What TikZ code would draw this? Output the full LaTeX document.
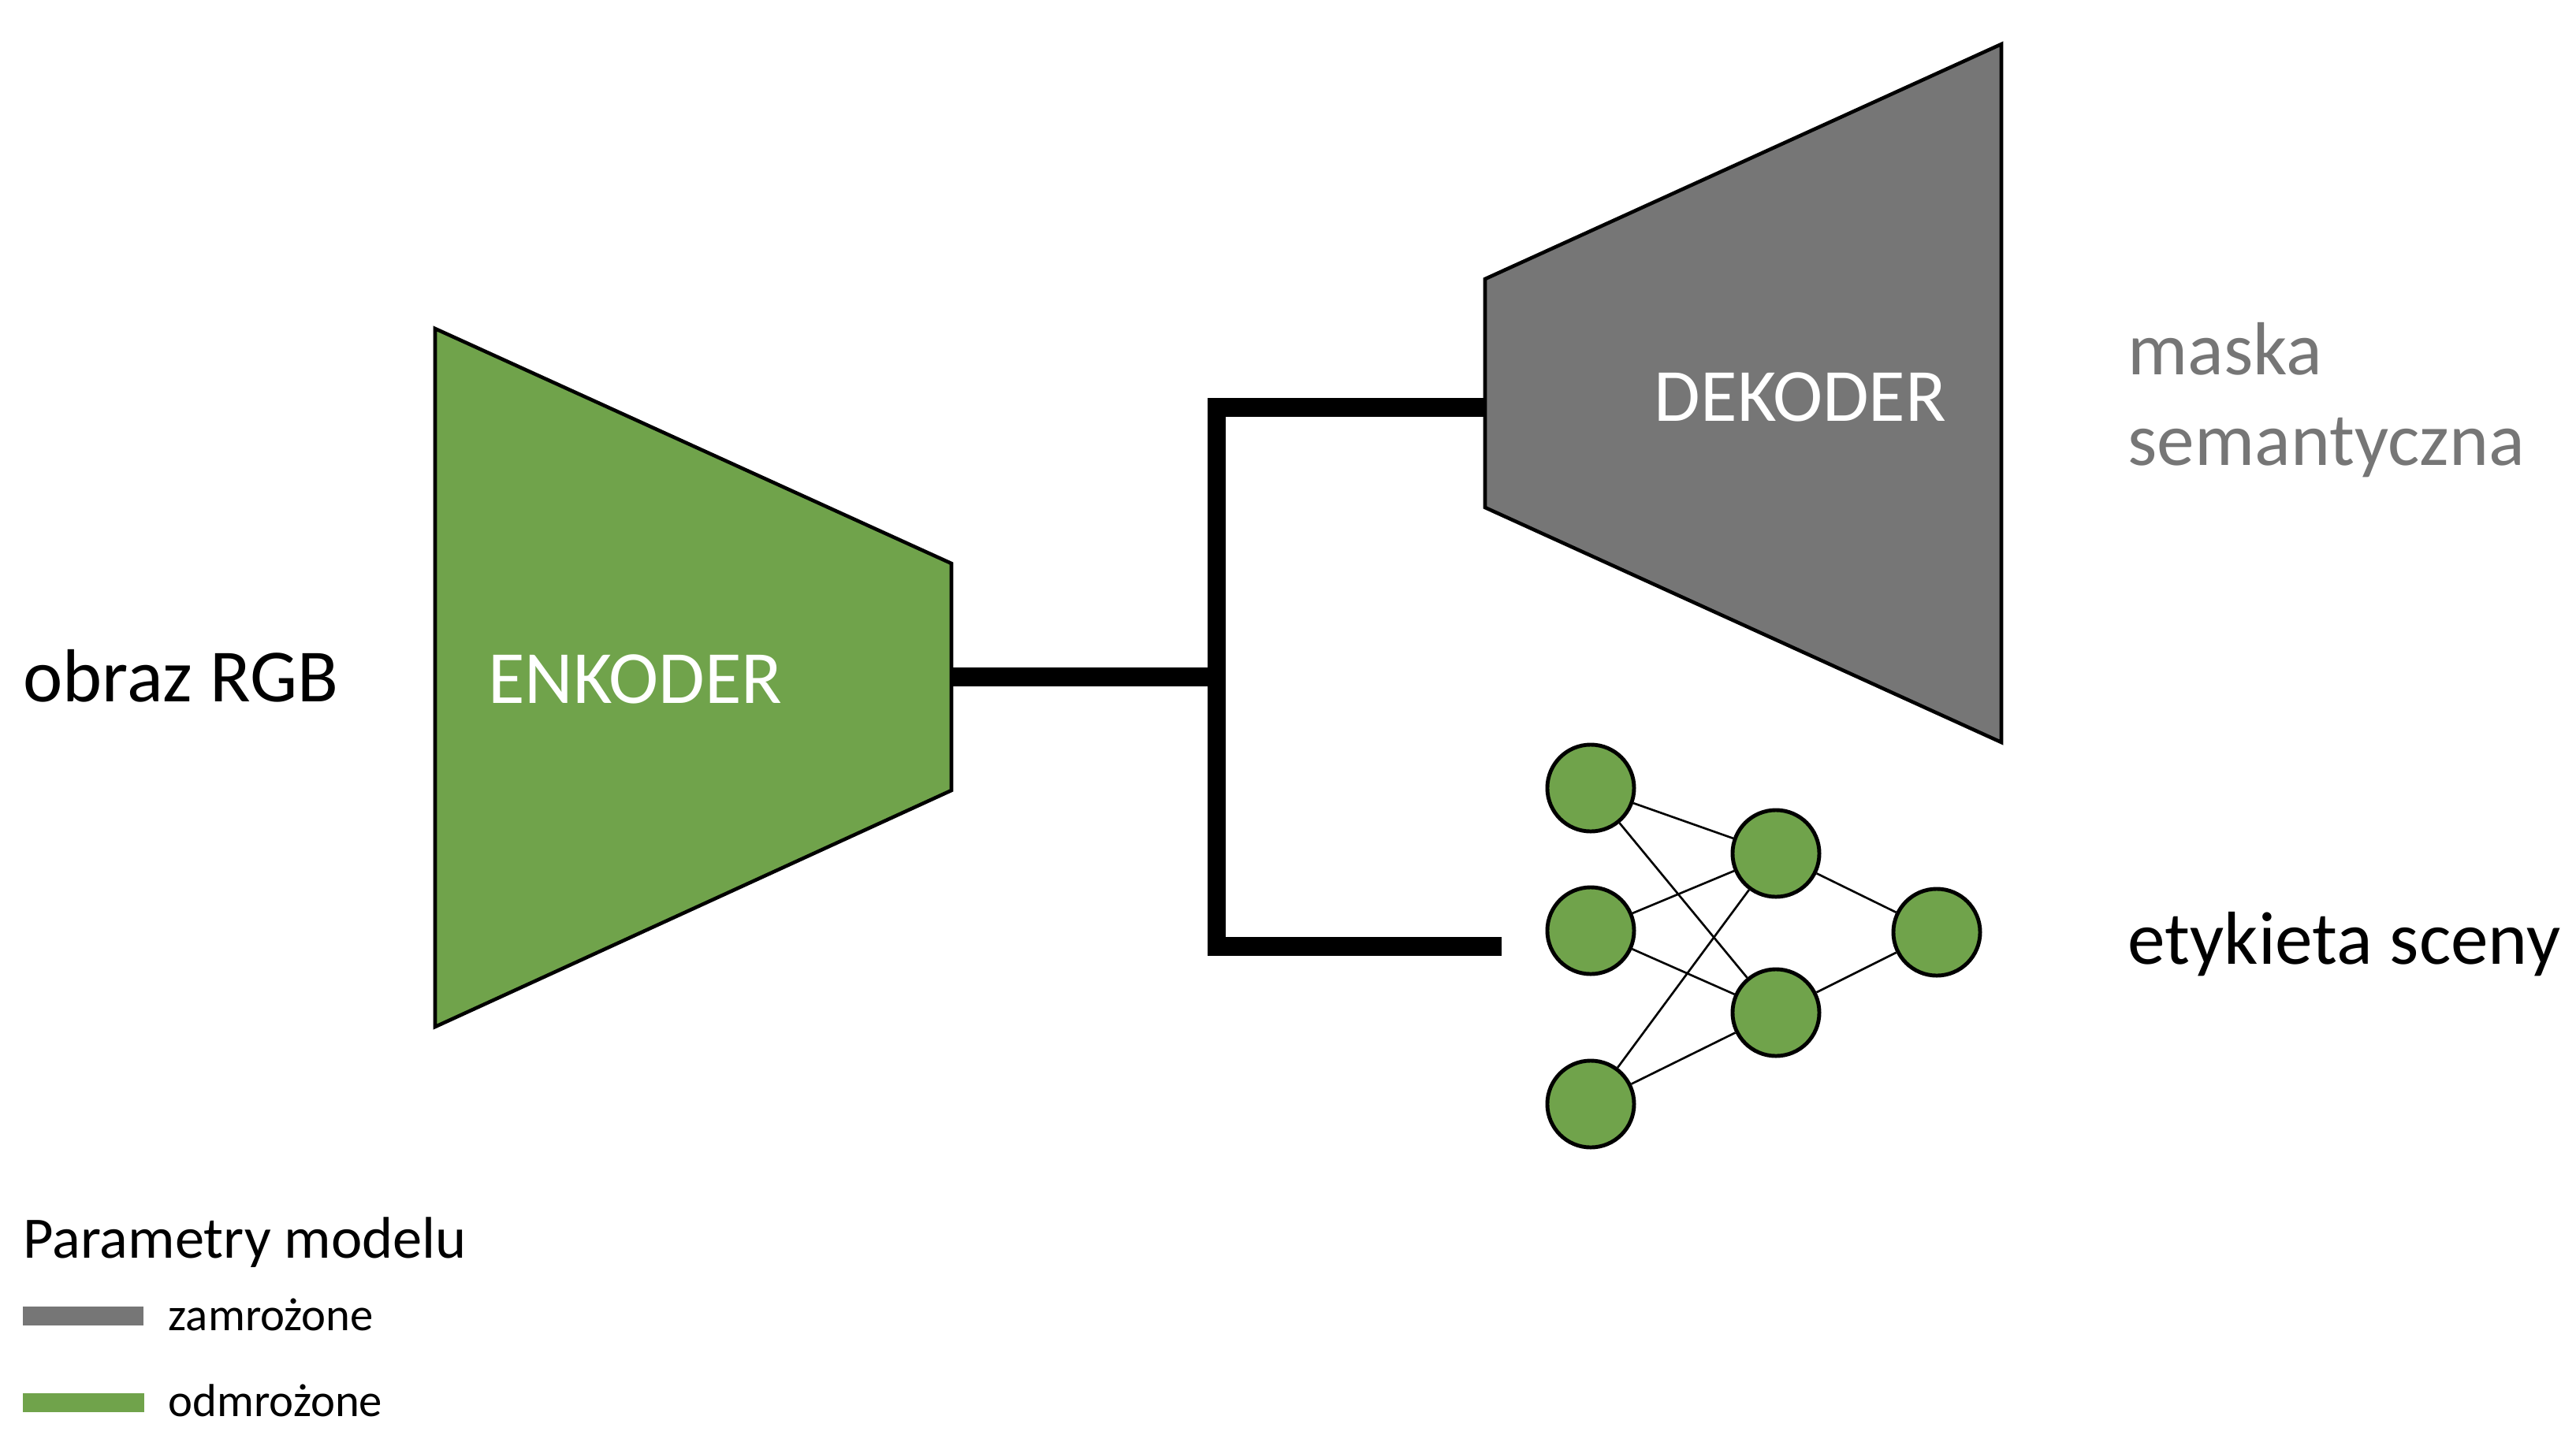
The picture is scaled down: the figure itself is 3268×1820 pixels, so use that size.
\documentclass[tikz,border=0pt]{standalone}
\usepackage{fontspec}
\setmainfont{Carlito}
\definecolor{encgreen}{HTML}{70A34B}
\definecolor{decgray}{HTML}{767676}
\tikzset{
  shapeline/.style={draw=black, line width=1.3pt, line join=miter},
  bus/.style={draw=black, line width=6.8pt, line cap=butt},
  neuron/.style={circle, draw=black, line width=1.4pt, fill=encgreen, minimum size=1.1cm, inner sep=0pt},
  synapse/.style={draw=black, line width=0.75pt},
  bigtext/.style={font=\fontsize{27.1}{32}\selectfont, inner sep=0pt},
  midtext/.style={font=\fontsize{21.2}{25}\selectfont, inner sep=0pt},
  smalltext/.style={font=\fontsize{16.7}{20}\selectfont, inner sep=0pt},
}
\begin{document}
\begin{tikzpicture}[x=0.01cm, y=-0.01cm]
\useasboundingbox (0,0) rectangle (3268,1820);

% connectors (named end points)
\coordinate (encOut) at (1207,859);
\coordinate (jMid) at (1533,859);
\coordinate (jTopL) at (1532,517);
\coordinate (decIn) at (1886,517);
\coordinate (vTop) at (1543.5,515);
\coordinate (vBot) at (1543.5,1209);
\coordinate (jBotL) at (1532,1201);
\coordinate (netIn) at (1905,1201);
\draw[bus] (encOut) -- (jMid);
\draw[bus] (jTopL) -- (decIn);
\draw[bus] (vTop) -- (vBot);
\draw[bus] (jBotL) -- (netIn);

% encoder
\draw[shapeline, fill=encgreen] (552,417) -- (1207,715) -- (1207,1003) -- (552,1303) -- cycle;
\node[bigtext, text=white, anchor=base] (enc) at (806,892) {ENKODER};

% decoder
\draw[shapeline, fill=decgray] (1884,354) -- (2539,56) -- (2539,942) -- (1884,644) -- cycle;
\node[bigtext, text=white, anchor=base] (dec) at (2284,534) {DEKODER};

% network
\node[neuron] (n1) at (2018,1000) {};
\node[neuron] (n2) at (2018,1181) {};
\node[neuron] (n3) at (2018,1401) {};
\node[neuron] (n4) at (2253,1083) {};
\node[neuron] (n5) at (2253,1285) {};
\node[neuron] (n6) at (2457,1183) {};
\foreach \a/\b in {n1/n4,n1/n5,n2/n4,n2/n5,n3/n4,n3/n5,n4/n6,n5/n6}
  \draw[synapse] (\a) -- (\b);

% labels
\node[bigtext, anchor=base west] (inp) at (29,890) {obraz RGB};
\node[bigtext, anchor=base west, text=decgray] (mask1) at (2699,475) {maska};
\node[bigtext, anchor=base west, text=decgray] (mask2) at (2699,590) {semantyczna};
\node[bigtext, anchor=base west] (scene) at (2699,1223) {etykieta sceny};

% legend
\node[midtext, anchor=base west] (legtitle) at (29,1596) {Parametry modelu};
\fill[decgray] (29,1658) rectangle (182,1682);
\node[smalltext, anchor=base west] (legfrozen) at (213,1688) {zamrożone};
\fill[encgreen] (29,1768) rectangle (183,1792);
\node[smalltext, anchor=base west] (legfree) at (213,1797) {odmrożone};
\end{tikzpicture}
\end{document}
